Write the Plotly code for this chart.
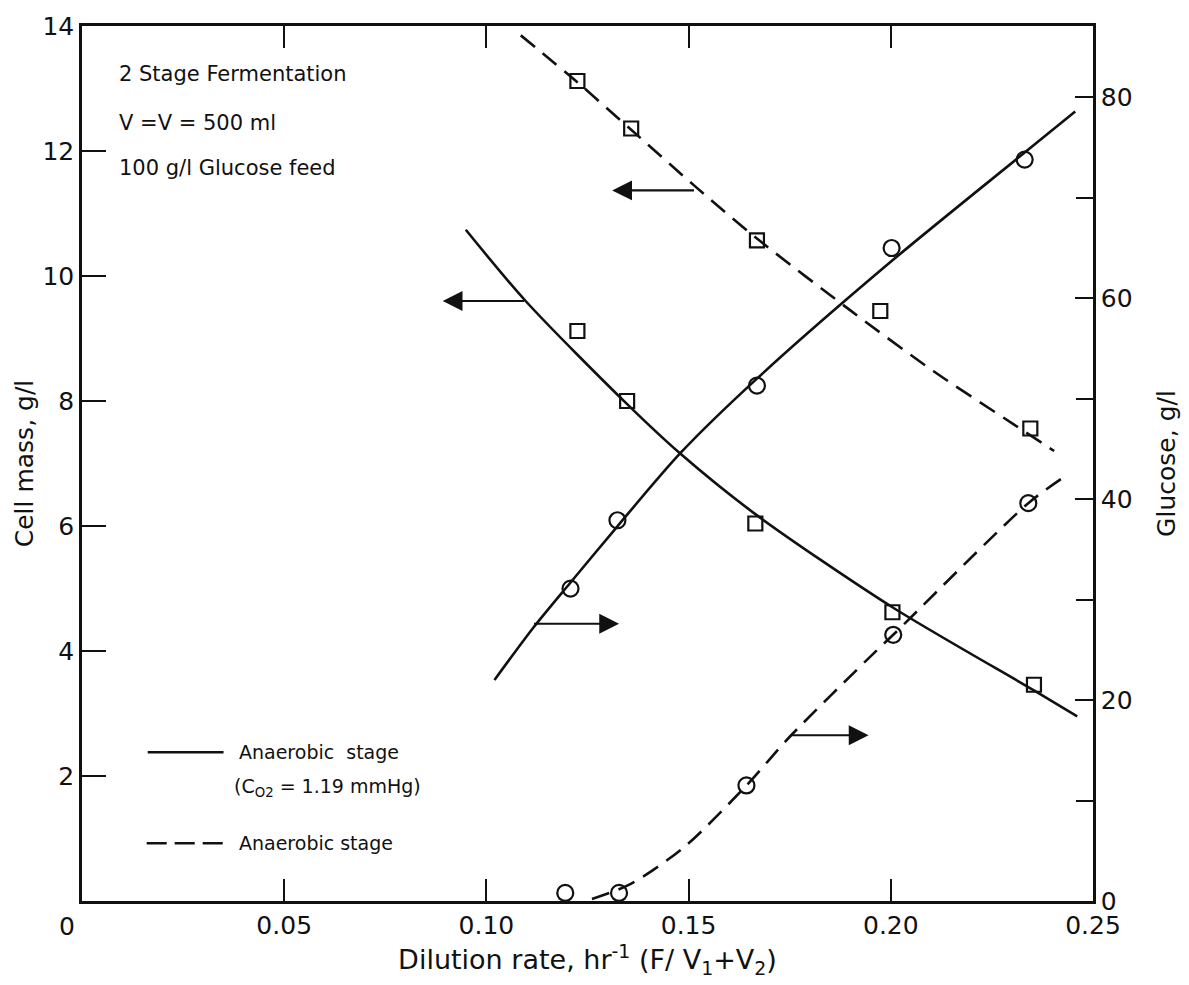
import plotly.graph_objects as go

# ---- data ----
# cell mass (left axis, g/l), squares
sq_dash_x = [0.1225, 0.1358, 0.1669, 0.1974, 0.2345]
sq_dash_y = [13.12, 12.36, 10.57, 9.44, 7.56]
sq_solid_x = [0.1225, 0.1348, 0.1665, 0.2004, 0.2354]
sq_solid_y = [9.12, 8.00, 6.04, 4.62, 3.46]
# glucose (right axis, g/l), circles
ci_solid_x = [0.1208, 0.1324, 0.1669, 0.2002, 0.2331]
ci_solid_y = [31.1, 37.9, 51.3, 65.0, 73.8]
ci_dash_x = [0.1195, 0.1328, 0.1643, 0.2006, 0.2340]
ci_dash_y = [0.8, 0.8, 11.5, 26.5, 39.6]

# fitted curves as drawn in the figure
cm_dash_x = [0.1085, 0.1225, 0.1358, 0.1517, 0.1669, 0.1900, 0.2105, 0.2303, 0.2404]
cm_dash_y = [13.85, 13.10, 12.34, 11.43, 10.60, 9.45, 8.48, 7.63, 7.20]
cm_solid_x = [0.0949, 0.1097, 0.1348, 0.1480, 0.1665, 0.2004, 0.2354, 0.2461]
cm_solid_y = [10.74, 9.60, 7.95, 7.155, 6.19, 4.70, 3.37, 2.955]
gl_solid_x = [0.1020, 0.1114, 0.1208, 0.1324, 0.1480, 0.1669, 0.2002, 0.2331, 0.2456]
gl_solid_y = [22.0, 27.1, 31.7, 37.3, 44.6, 52.0, 63.7, 74.5, 78.6]
gl_dash_x = [0.1261, 0.1357, 0.1490, 0.1643, 0.1749, 0.1964, 0.2006, 0.2340, 0.2428]
gl_dash_y = [0.2, 1.7, 5.4, 11.5, 16.3, 24.9, 26.5, 39.6, 42.2]

# axis-pointing arrows: (tail x, tip x, level, axis)
arrow_tail_x = [0.1517, 0.1097, 0.1114, 0.1749]
arrow_tip_x = [0.1311, 0.0892, 0.1328, 0.1945]
arrow_level = [11.37, 9.60, 27.6, 16.5]
arrow_axis = ["y", "y", "y2", "y2"]

x_ticks = [0, 0.05, 0.10, 0.15, 0.20, 0.25]
x_tick_text = ["", "0.05", "0.10", "0.15", "0.20", "0.25"]
origin_label = "0"
y_ticks = [0, 2, 4, 6, 8, 10, 12, 14]
y_tick_text = ["", "2", "4", "6", "8", "10", "12", "14"]
y2_ticks = [0, 20, 40, 60, 80]
y2_tick_text = ["0", "20", "40", "60", "80"]

FONT = "DejaVu Sans"
INK = "#111111"
DASH = "18px,10px"

fig = go.Figure()

fig.add_trace(go.Scatter(x=cm_dash_x, y=cm_dash_y, mode="lines", line=dict(color=INK, width=2.6, dash=DASH, shape="spline", smoothing=0.8), showlegend=False))
fig.add_trace(go.Scatter(x=cm_solid_x, y=cm_solid_y, mode="lines", line=dict(color=INK, width=2.6, shape="spline", smoothing=0.8), showlegend=False))
fig.add_trace(go.Scatter(x=gl_solid_x, y=gl_solid_y, yaxis="y2", mode="lines", line=dict(color=INK, width=2.6, shape="spline", smoothing=0.8), showlegend=False))
fig.add_trace(go.Scatter(x=gl_dash_x, y=gl_dash_y, yaxis="y2", mode="lines", line=dict(color=INK, width=2.6, dash=DASH, shape="spline", smoothing=0.8), showlegend=False))

sq_marker = dict(symbol="square-open", size=14, color=INK, line=dict(width=2.2, color=INK))
ci_marker = dict(symbol="circle-open", size=16, color=INK, line=dict(width=2.2, color=INK))
fig.add_trace(go.Scatter(x=sq_dash_x, y=sq_dash_y, mode="markers", marker=sq_marker, showlegend=False, cliponaxis=False))
fig.add_trace(go.Scatter(x=sq_solid_x, y=sq_solid_y, mode="markers", marker=sq_marker, showlegend=False, cliponaxis=False))
fig.add_trace(go.Scatter(x=ci_solid_x, y=ci_solid_y, yaxis="y2", mode="markers", marker=ci_marker, showlegend=False, cliponaxis=False))
fig.add_trace(go.Scatter(x=ci_dash_x, y=ci_dash_y, yaxis="y2", mode="markers", marker=ci_marker, showlegend=False, cliponaxis=False))

annotations = []
for tx, hx, lv, ax_name in zip(arrow_tail_x, arrow_tip_x, arrow_level, arrow_axis):
    annotations.append(dict(
        x=hx, y=lv, xref="x", yref=ax_name,
        ax=tx, ay=lv, axref="x", ayref=ax_name,
        showarrow=True, arrowhead=2, arrowsize=1.8, arrowwidth=2.2, arrowcolor=INK, text="",
    ))

tick_font = dict(family=FONT, size=25, color=INK)
annotations.append(dict(x=-0.015, y=0, xref="paper", yref="paper", text=origin_label, showarrow=False,
                        xanchor="center", yanchor="top", yshift=-9, font=tick_font))

txt_font = dict(family=FONT, size=21, color=INK)
for label, yp in [("2 Stage Fermentation", 0.945), ("V =V = 500 ml", 0.889), ("100 g/l Glucose feed", 0.838)]:
    annotations.append(dict(x=0.035, y=yp, xref="paper", yref="paper", text=label, showarrow=False,
                            xanchor="left", yanchor="middle", font=txt_font))

leg_font = dict(family=FONT, size=19, color=INK)
annotations += [
    dict(x=0.153, y=0.170, xref="paper", yref="paper", text="Anaerobic  stage", showarrow=False,
         xanchor="left", yanchor="middle", font=leg_font),
    dict(x=0.148, y=0.130, xref="paper", yref="paper", text="(C<sub>O2</sub> = 1.19 mmHg)", showarrow=False,
         xanchor="left", yanchor="middle", font=leg_font),
    dict(x=0.153, y=0.066, xref="paper", yref="paper", text="Anaerobic stage", showarrow=False,
         xanchor="left", yanchor="middle", font=leg_font),
]

shapes = [
    dict(type="line", xref="paper", yref="paper", x0=0.065, x1=0.140, y0=0.170, y1=0.170,
         line=dict(color=INK, width=2.4)),
    dict(type="line", xref="paper", yref="paper", x0=0.064, x1=0.144, y0=0.066, y1=0.066,
         line=dict(color=INK, width=2.4, dash="20px,8px")),
]

fig.update_layout(
    width=1189, height=985,
    margin=dict(l=82, r=96, t=24, b=84),
    paper_bgcolor="white", plot_bgcolor="white",
    showlegend=False,
    annotations=annotations,
    shapes=shapes,
    xaxis=dict(
        range=[0, 0.25], tickvals=x_ticks, ticktext=x_tick_text,
        ticks="inside", ticklen=22, tickwidth=2, tickcolor=INK,
        showline=True, linewidth=2.5, linecolor=INK, mirror="ticks",
        showgrid=False, zeroline=False, tickfont=tick_font,
        title=dict(text="Dilution rate, hr<sup>-1</sup> (F/ V<sub>1</sub>+V<sub>2</sub>)",
                   font=dict(family=FONT, size=27, color=INK), standoff=4),
    ),
    yaxis=dict(
        range=[0, 14], tickvals=y_ticks, ticktext=y_tick_text,
        ticks="inside", ticklen=24, tickwidth=2, tickcolor=INK,
        showline=True, linewidth=2.5, linecolor=INK, mirror=False,
        showgrid=False, zeroline=False, tickfont=tick_font,
        title=dict(text="Cell mass, g/l", font=dict(family=FONT, size=25, color=INK), standoff=2),
    ),
    yaxis2=dict(
        range=[0, 87.1], overlaying="y", side="right", anchor="x",
        tickvals=y2_ticks, ticktext=y2_tick_text,
        ticks="inside", ticklen=18, tickwidth=2, tickcolor=INK,
        minor=dict(tickvals=[10, 30, 50, 70], ticks="inside", ticklen=17, tickwidth=2, tickcolor=INK),
        showline=True, linewidth=2.5, linecolor=INK,
        showgrid=False, zeroline=False, tickfont=tick_font,
        title=dict(text="Glucose, g/l", font=dict(family=FONT, size=25, color=INK), standoff=26),
    ),
)

fig.write_html("out.html")
